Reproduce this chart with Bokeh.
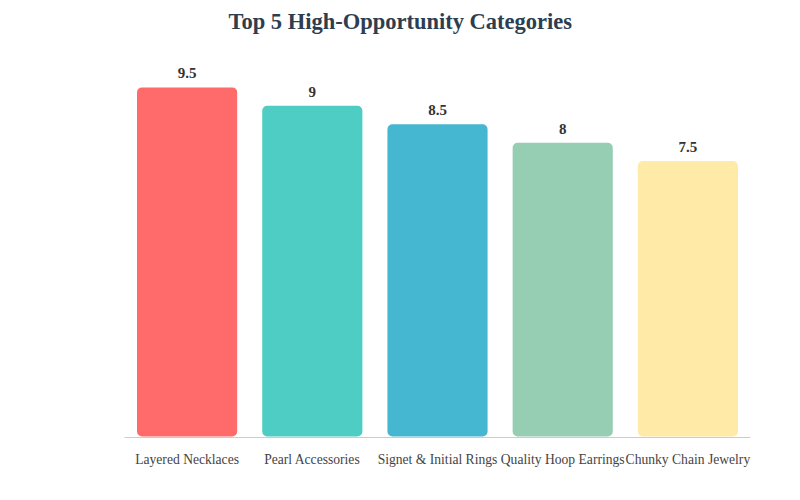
from bokeh.plotting import figure
from bokeh.models import ColumnDataSource, Title
from bokeh.core.properties import value
from bokeh.embed import file_html
from bokeh.resources import INLINE

categories = ["Layered Necklaces", "Pearl Accessories", "Signet & Initial Rings",
              "Quality Hoop Earrings", "Chunky Chain Jewelry"]
scores = [9.5, 9, 8.5, 8, 7.5]
labels = ["9.5", "9", "8.5", "8", "7.5"]
colors = ["#FF6B6B", "#4ECDC4", "#45B7D1", "#96CEB4", "#FFEAA7"]

src = ColumnDataSource(dict(cat=categories, val=scores, lab=labels, col=colors))

p = figure(x_range=categories, y_range=(0, 10.8), width=784, height=484,
           output_backend="svg", toolbar_location=None,
           min_border_left=124, min_border_right=34, min_border_bottom=47,
           min_border_top=0)
p.title = Title(text="Top 5 High-Opportunity Categories", align="left", offset=104,
                text_font="Liberation Serif", text_font_size="22.5px",
                text_font_style="bold", text_color="#2c3e50", standoff=12)

p.vbar(x="cat", top="val", bottom=0.03, width=0.8, source=src, fill_color="col",
       line_color=None, border_radius=5)
p.text(x="cat", y="val", text="lab", source=src, y_offset=-9,
       text_align="center", text_baseline="bottom",
       text_font=value("Liberation Serif"), text_font_size="15px",
       text_font_style="bold", text_color="#333333")

p.outline_line_color = None
p.grid.grid_line_color = None
p.yaxis.visible = False
p.xaxis.axis_line_color = "#cccccc"
p.xaxis.major_tick_line_color = None
p.xaxis.minor_tick_line_color = None
p.xaxis.major_label_text_font = "Liberation Serif"
p.xaxis.major_label_text_font_size = "13.6px"
p.xaxis.major_label_text_color = "#444444"
p.xaxis.major_label_standoff = 8
p.x_range.range_padding = 0

open("out.html", "w").write(file_html(p, INLINE))
